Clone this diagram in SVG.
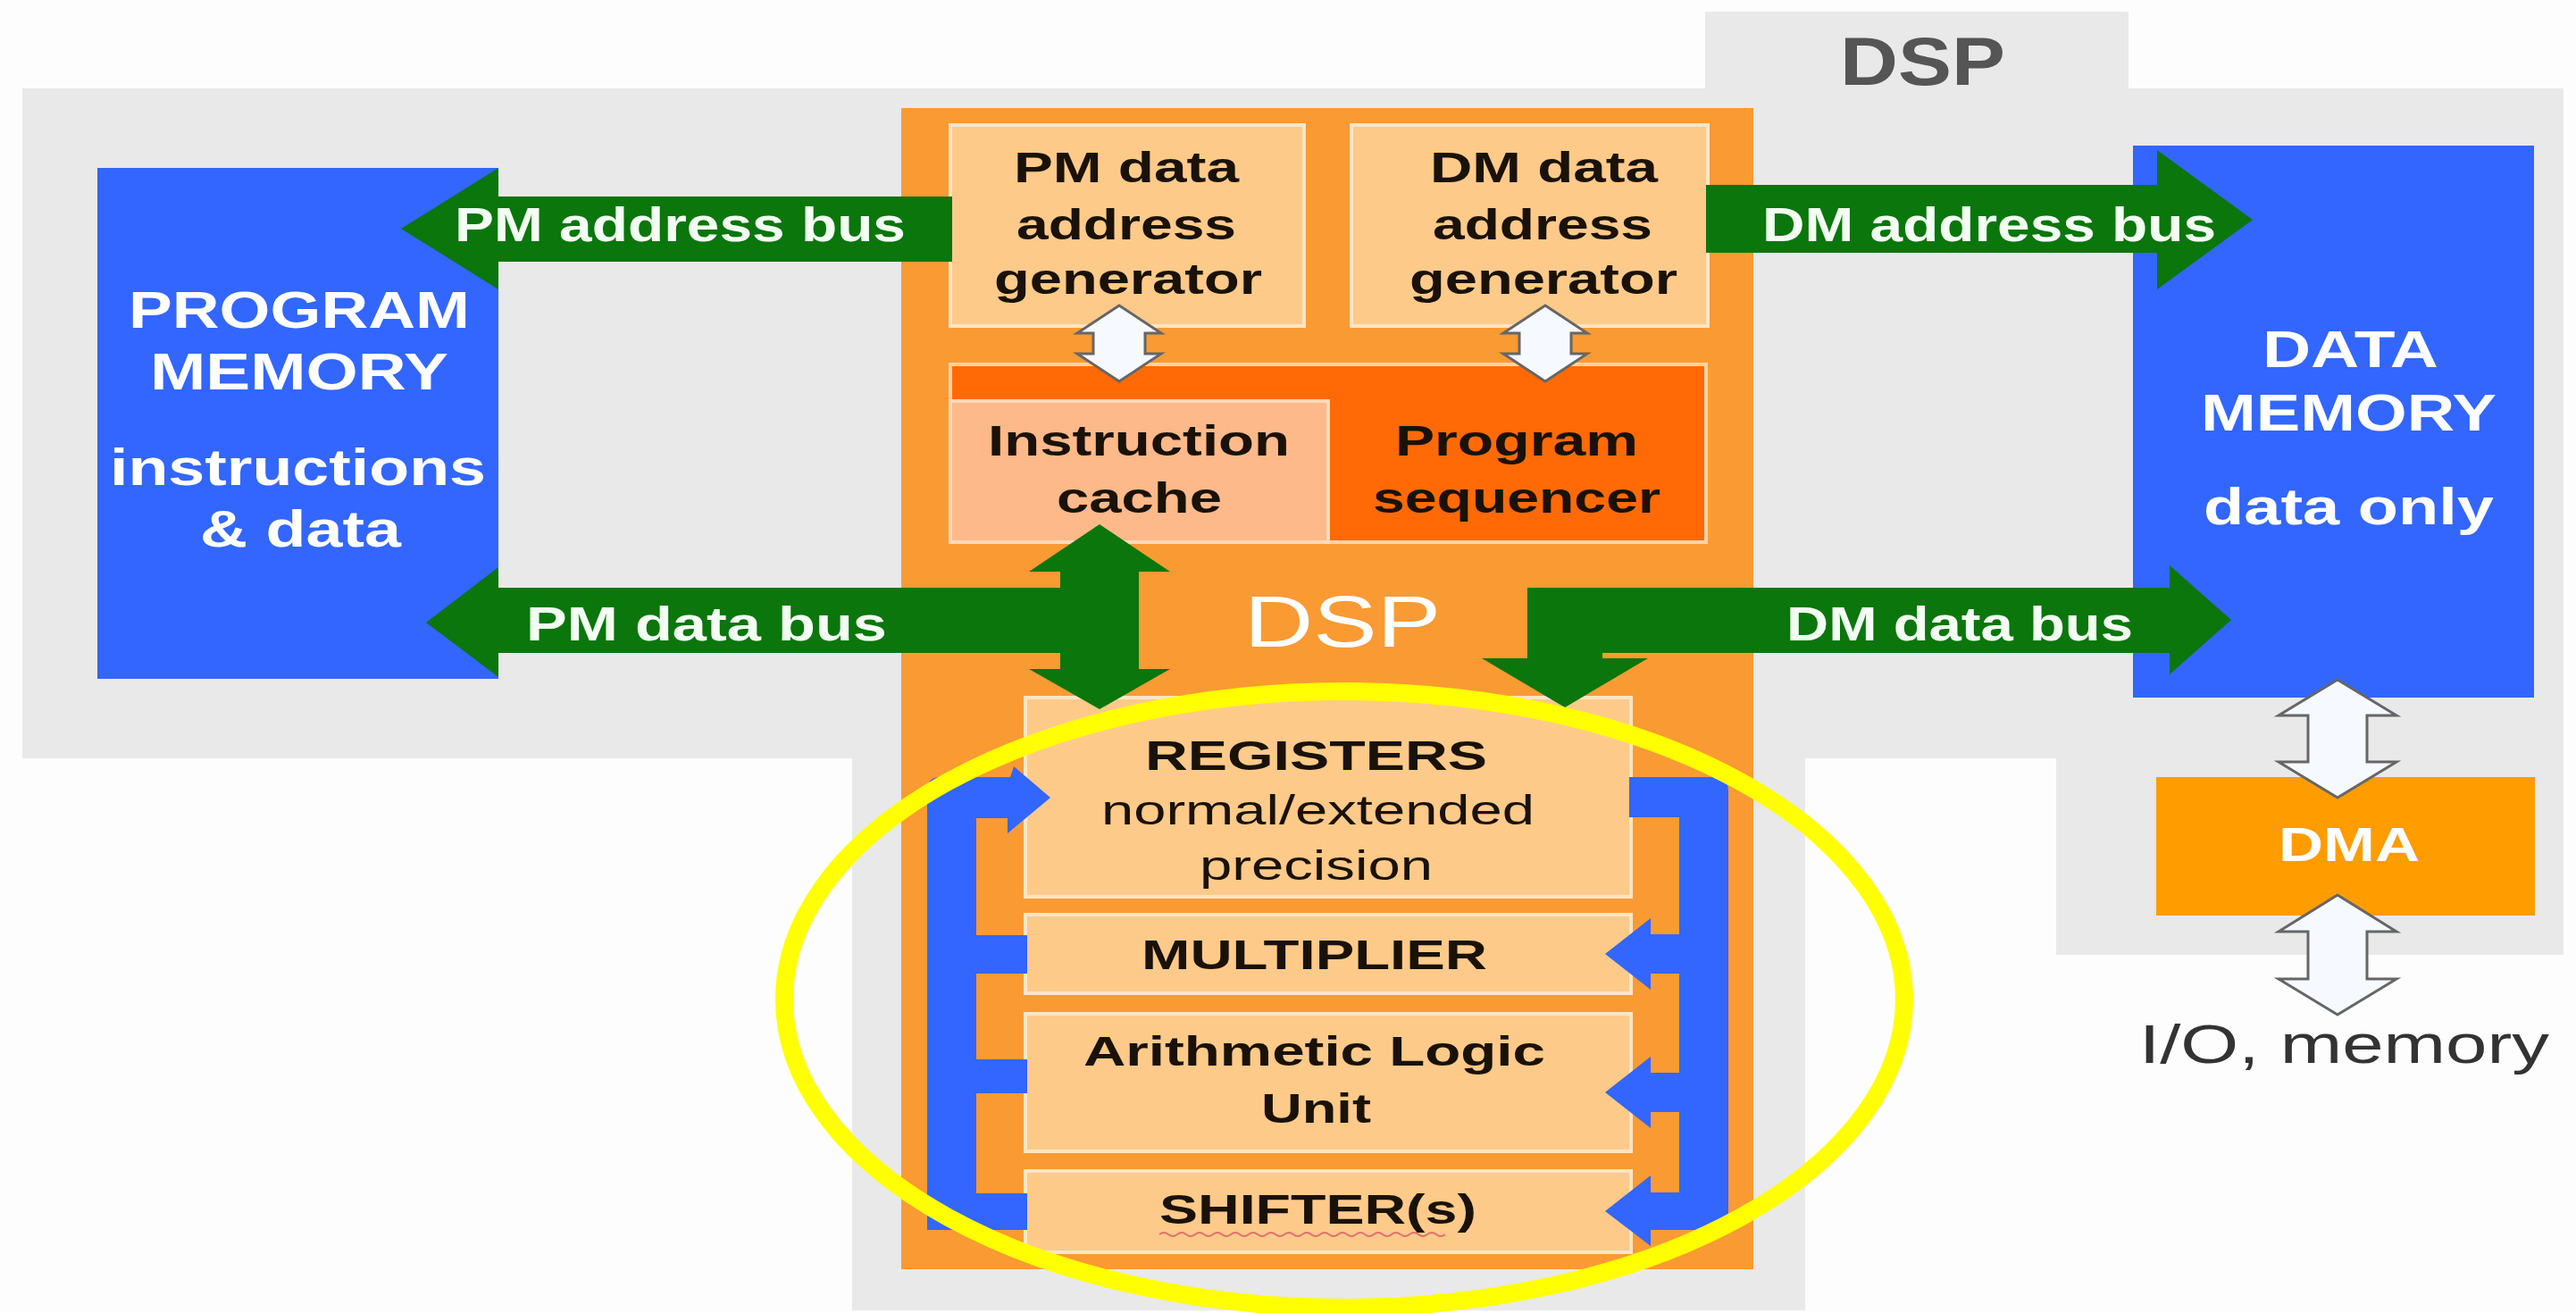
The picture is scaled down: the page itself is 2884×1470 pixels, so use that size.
<svg xmlns="http://www.w3.org/2000/svg" width="2884" height="1470" viewBox="0 0 2884 1470">
  <style>
    text { font-family: "Liberation Sans", Arial, sans-serif; }
    .bus { font-size: 53px; font-weight: bold; fill: #F2FFF2; }
    .mem { font-size: 57px; font-weight: bold; fill: #FFFFFF; }
    .blk { font-size: 49px; font-weight: bold; fill: #1A1208; }
    .alu { font-size: 47px; font-weight: bold; fill: #1A1208; }
    .aluN { font-size: 46px; fill: #1A1208; }
    .unit { fill: #FDCA8A; stroke: #FFE5C4; stroke-width: 4; }
    .green { fill: #0A760C; }
    .blue { fill: #3366FF; }
    .hollow { fill: #F6F9FF; stroke: #666666; stroke-width: 3; stroke-linejoin: miter; }
  </style>

  <!-- page and grey chip outline -->
  <rect x="0" y="0" width="2884" height="1470" fill="#FDFDFD"/>
  <g id="chip-outline" fill="#E9E9E9">
    <rect x="25" y="99" width="2845" height="750"/>
    <rect x="1909" y="13" width="474" height="90"/>
    <rect x="954" y="840" width="1067" height="627"/>
    <rect x="2302" y="840" width="568" height="229"/>
  </g>
  <text x="2060" y="95" textLength="185" lengthAdjust="spacingAndGlyphs" style="font-size:76px;font-weight:bold;fill:#555555">DSP</text>

  <!-- program memory -->
  <g id="program-memory">
    <rect class="blue" x="109" y="188" width="449" height="572"/>
    <text class="mem" x="144" y="367" textLength="382" lengthAdjust="spacingAndGlyphs">PROGRAM</text>
    <text class="mem" x="168" y="436" textLength="334" lengthAdjust="spacingAndGlyphs">MEMORY</text>
    <text class="mem" x="123" y="543" textLength="421" lengthAdjust="spacingAndGlyphs">instructions</text>
    <text class="mem" x="224" y="612" textLength="225" lengthAdjust="spacingAndGlyphs">&amp; data</text>
  </g>

  <!-- data memory -->
  <g id="data-memory">
    <rect class="blue" x="2388" y="163" width="449" height="618"/>
    <text class="mem" x="2533" y="411" textLength="197" lengthAdjust="spacingAndGlyphs">DATA</text>
    <text class="mem" x="2464" y="482" textLength="331" lengthAdjust="spacingAndGlyphs">MEMORY</text>
    <text class="mem" x="2467" y="587" textLength="325" lengthAdjust="spacingAndGlyphs">data only</text>
  </g>

  <!-- DSP core -->
  <g id="dsp-core">
    <rect x="1009" y="121" width="954" height="1300" fill="#FA9A33"/>
    <text x="1393" y="724" textLength="220" lengthAdjust="spacingAndGlyphs" style="font-size:82px;fill:#FFFFFF">DSP</text>
  </g>

  <g id="pm-dag">
    <rect class="unit" x="1064" y="140" width="396" height="225"/>
    <text class="blk" x="1135" y="204" textLength="252" lengthAdjust="spacingAndGlyphs">PM data</text>
    <text class="blk" x="1138" y="268" textLength="246" lengthAdjust="spacingAndGlyphs">address</text>
    <text class="blk" x="1113" y="329" textLength="300" lengthAdjust="spacingAndGlyphs">generator</text>
  </g>

  <g id="dm-dag">
    <rect class="unit" x="1513" y="140" width="399" height="225"/>
    <text class="blk" x="1601" y="204" textLength="255" lengthAdjust="spacingAndGlyphs">DM data</text>
    <text class="blk" x="1604" y="268" textLength="246" lengthAdjust="spacingAndGlyphs">address</text>
    <text class="blk" x="1578" y="329" textLength="300" lengthAdjust="spacingAndGlyphs">generator</text>
  </g>

  <g id="program-sequencer">
    <rect x="1064" y="408" width="846" height="199" fill="#FF6A06" stroke="#FFD3A8" stroke-width="4"/>
    <text class="blk" x="1562" y="510" textLength="272" lengthAdjust="spacingAndGlyphs">Program</text>
    <text class="blk" x="1537" y="574" textLength="322" lengthAdjust="spacingAndGlyphs">sequencer</text>
  </g>

  <g id="instruction-cache">
    <rect x="1064" y="449" width="423" height="158" fill="#FDB98A" stroke="#FFD9B8" stroke-width="4"/>
    <text class="blk" x="1106" y="510" textLength="338" lengthAdjust="spacingAndGlyphs">Instruction</text>
    <text class="blk" x="1183" y="574" textLength="185" lengthAdjust="spacingAndGlyphs">cache</text>
  </g>

  <g id="registers">
    <rect class="unit" x="1148" y="781" width="678" height="223"/>
    <text class="alu" x="1282" y="862" textLength="383" lengthAdjust="spacingAndGlyphs">REGISTERS</text>
    <text class="aluN" x="1233" y="923" textLength="485" lengthAdjust="spacingAndGlyphs">normal/extended</text>
    <text class="aluN" x="1343" y="985" textLength="261" lengthAdjust="spacingAndGlyphs">precision</text>
  </g>

  <g id="multiplier">
    <rect class="unit" x="1148" y="1024" width="678" height="88"/>
    <text class="alu" x="1278" y="1085" textLength="387" lengthAdjust="spacingAndGlyphs">MULTIPLIER</text>
  </g>

  <g id="alu">
    <rect class="unit" x="1148" y="1135" width="678" height="154"/>
    <text class="alu" x="1213" y="1193" textLength="517" lengthAdjust="spacingAndGlyphs">Arithmetic Logic</text>
    <text class="alu" x="1412" y="1257" textLength="123" lengthAdjust="spacingAndGlyphs">Unit</text>
  </g>

  <g id="shifter">
    <rect class="unit" x="1148" y="1311" width="678" height="91"/>
    <text class="alu" x="1298" y="1370" textLength="355" lengthAdjust="spacingAndGlyphs">SHIFTER(s)</text>
    <path d="M1298,1382 q5,-4 10,0 t10,0 t10,0 t10,0 t10,0 t10,0 t10,0 t10,0 t10,0 t10,0 t10,0 t10,0 t10,0 t10,0 t10,0 t10,0 t10,0 t10,0 t10,0 t10,0 t10,0 t10,0 t10,0 t10,0 t10,0 t10,0 t10,0 t10,0 t10,0 t10,0 t10,0 t10,0" fill="none" stroke="#E07070" stroke-width="2"/>
  </g>

  <g id="dma">
    <rect x="2414" y="870" width="424" height="155" fill="#FF9C00"/>
    <text x="2551" y="964" textLength="158" lengthAdjust="spacingAndGlyphs" style="font-size:54px;font-weight:bold;fill:#FFFFFF">DMA</text>
  </g>

  <g id="io-memory">
    <text x="2395" y="1190" textLength="459" lengthAdjust="spacingAndGlyphs" style="font-size:62px;fill:#333333">I/O, memory</text>
  </g>

  <!-- buses and internal paths -->
  <g id="connectors">
    <!-- PM address bus -->
    <path class="green" d="M449,256 L558,188 L558,220 L1066,220 L1066,293 L558,293 L558,324 Z"/>
    <text class="bus" x="509" y="270" textLength="505" lengthAdjust="spacingAndGlyphs">PM address bus</text>

    <!-- DM address bus -->
    <path class="green" d="M1910,207 L2415,207 L2415,168 L2522,246 L2415,324 L2415,283 L1910,283 Z"/>
    <text class="bus" x="1973" y="270" textLength="508" lengthAdjust="spacingAndGlyphs">DM address bus</text>

    <!-- PM data bus with vertical link between cache and registers -->
    <path class="green" d="M477,697 L558,635 L558,658 L1187,658 L1187,640 L1152,640 L1231,587 L1310,640 L1275,640 L1275,749 L1310,749 L1231,794 L1152,749 L1187,749 L1187,731 L558,731 L558,758 Z"/>
    <text class="bus" x="589" y="717" textLength="404" lengthAdjust="spacingAndGlyphs">PM data bus</text>

    <!-- DM data bus down into registers -->
    <path class="green" d="M1710,658 L2429,658 L2429,633 L2498,694 L2429,755 L2429,731 L1794,731 L1794,737 L1845,737 L1752,792 L1659,737 L1710,737 Z"/>
    <text class="bus" x="2000" y="717" textLength="388" lengthAdjust="spacingAndGlyphs">DM data bus</text>

    <!-- address generators to sequencer -->
    <path class="hollow" d="M1253,342 L1300,373 L1282,373 L1282,396 L1300,396 L1253,427 L1206,396 L1224,396 L1224,373 L1206,373 Z"/>
    <path class="hollow" d="M1730,342 L1777,373 L1759,373 L1759,396 L1777,396 L1730,427 L1683,396 L1701,396 L1701,373 L1683,373 Z"/>

    <!-- data memory to DMA, DMA to I/O -->
    <path class="hollow" d="M2617,761 L2683,801 L2650,801 L2650,853 L2683,853 L2617,893 L2551,853 L2584,853 L2584,801 L2551,801 Z"/>
    <path class="hollow" d="M2617,1002 L2683,1043 L2650,1043 L2650,1096 L2683,1096 L2617,1136 L2551,1096 L2584,1096 L2584,1043 L2551,1043 Z"/>

    <!-- results back to registers -->
    <path class="blue" d="M1038,1377 L1038,885 Q1038,870 1053,870 L1131,870 L1135,858 L1176,893 L1128,933 L1128,916 L1093,916 L1093,1047 L1150,1047 L1150,1090 L1093,1090 L1093,1186 L1150,1186 L1150,1224 L1093,1224 L1093,1336 L1150,1336 L1150,1377 Z"/>
    <!-- registers out to the units -->
    <path class="blue" d="M1824,870 L1920,870 Q1935,870 1935,885 L1935,1377 L1848,1377 L1848,1395 L1797,1356 L1848,1316 L1848,1335 L1880,1335 L1880,1245 L1848,1245 L1848,1263 L1797,1223 L1848,1183 L1848,1201 L1880,1201 L1880,1090 L1848,1090 L1848,1108 L1797,1068 L1848,1028 L1848,1046 L1880,1046 L1880,915 L1824,915 Z"/>
  </g>

  <!-- highlight around the computation units -->
  <ellipse id="compute-highlight" cx="1505" cy="1119" rx="627" ry="345" fill="none" stroke="#FFFF00" stroke-width="20"/>
</svg>
